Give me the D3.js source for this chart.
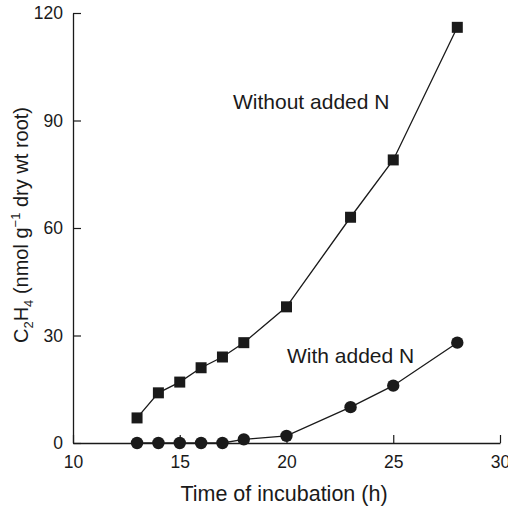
<!DOCTYPE html>
<html>
<head>
<meta charset="utf-8">
<script src="https://cdn.jsdelivr.net/npm/d3@7"></script>
<style>
  html, body { margin: 0; padding: 0; background: #fff; }
  svg { display: block; font-family: "Liberation Sans", Arial, Helvetica, sans-serif; }
</style>
</head>
<body>
<svg id="chart" width="508" height="508"></svg>
<script>
// Incubation times (h)
const hours = [13, 14, 15, 16, 17, 18, 20, 23, 25, 28];
// C2H4 production without added N
const withoutN = [7, 14, 17, 21, 24, 28, 38, 63, 79, 116];
// C2H4 production with added N
const withN = [0, 0, 0, 0, 0, 1, 2, 10, 16, 28];
// Axis ticks
const xTicks = [10, 15, 20, 25, 30];
const yTicks = [0, 30, 60, 90, 120];

const svg = d3.select("#chart");
const x = d3.scaleLinear().domain([10, 30]).range([73, 500]);
const y = d3.scaleLinear().domain([0, 120]).range([443, 13]);

const ink = "#1a1a1a";

// Axes with inward ticks
const xAxis = svg.append("g")
  .attr("transform", `translate(0,${y(0)})`)
  .call(d3.axisBottom(x).tickValues(xTicks).tickSizeInner(-8).tickSizeOuter(0).tickPadding(13));
const yAxis = svg.append("g")
  .attr("transform", `translate(${x(10)},0)`)
  .call(d3.axisLeft(y).tickValues(yTicks).tickSizeInner(-8).tickSizeOuter(0).tickPadding(10));

[xAxis, yAxis].forEach(g => {
  g.select(".domain").attr("stroke", ink).attr("stroke-width", 1.3);
  g.selectAll(".tick line").attr("stroke", ink).attr("stroke-width", 1.2);
  g.selectAll(".tick text")
    .attr("fill", ink)
    .style("font-size", "17.5px")
    .style("font-family", "'Liberation Sans', Arial, sans-serif");
});

// Connecting lines
const line = d3.line().x(d => x(d[0])).y(d => y(d[1]));
const seriesA = hours.map((h, i) => [h, withoutN[i]]);
const seriesB = hours.map((h, i) => [h, withN[i]]);

svg.append("path").datum(seriesA)
  .attr("d", line).attr("fill", "none").attr("stroke", ink).attr("stroke-width", 1.3);
svg.append("path").datum(seriesB)
  .attr("d", line).attr("fill", "none").attr("stroke", ink).attr("stroke-width", 1.3);

// Markers
const sq = 11;
svg.append("g").selectAll("rect").data(seriesA).join("rect")
  .attr("x", d => x(d[0]) - sq / 2).attr("y", d => y(d[1]) - sq / 2)
  .attr("width", sq).attr("height", sq).attr("fill", ink);
svg.append("g").selectAll("circle").data(seriesB).join("circle")
  .attr("cx", d => x(d[0])).attr("cy", d => y(d[1]))
  .attr("r", 6.2).attr("fill", ink);

// Series labels
svg.append("text").attr("x", 233).attr("y", 109)
  .attr("fill", ink).style("font-size", "21px").text("Without added N");
svg.append("text").attr("x", 287).attr("y", 363)
  .attr("fill", ink).style("font-size", "21px").text("With added N");

// Axis titles
svg.append("text").attr("x", 284).attr("y", 501)
  .attr("text-anchor", "middle").attr("fill", ink).style("font-size", "21.5px")
  .text("Time of incubation (h)");

const yt = svg.append("text")
  .attr("transform", "translate(28,225) rotate(-90)")
  .attr("text-anchor", "middle").attr("fill", ink).style("font-size", "20px");
yt.append("tspan").text("C");
yt.append("tspan").attr("dy", 5).style("font-size", "13px").text("2");
yt.append("tspan").attr("dy", -5).text("H");
yt.append("tspan").attr("dy", 5).style("font-size", "13px").text("4");
yt.append("tspan").attr("dy", -5).text(" (nmol g");
yt.append("tspan").attr("dy", -8).style("font-size", "13px").text("\u22121");
yt.append("tspan").attr("dy", 8).text(" dry wt root)");
</script>
</body>
</html>
